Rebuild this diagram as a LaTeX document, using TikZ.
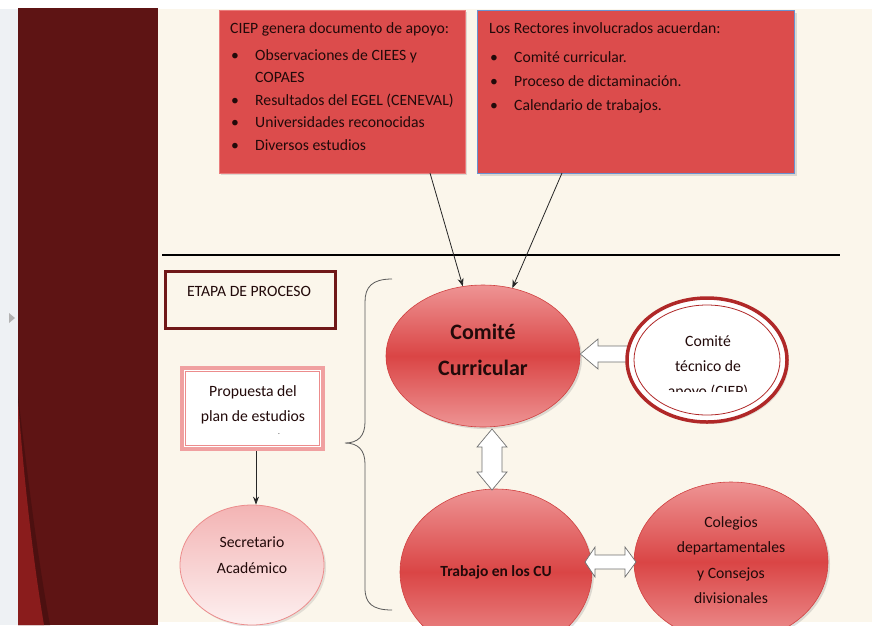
\documentclass[tikz,border=0pt]{standalone}
\usepackage{fontspec}
\setmainfont{Carlito}
\usetikzlibrary{shapes.geometric,shadows,calc,arrows.meta}

\definecolor{cream}{HTML}{FBF6EB}
\definecolor{stripc}{HTML}{EEF1F4}
\definecolor{maroonc}{HTML}{5E1414}
\definecolor{brightc}{HTML}{8A1C1C}
\definecolor{bandc}{HTML}{4C1010}
\definecolor{boxred}{HTML}{DC4C4C}
\definecolor{boxedge}{HTML}{EA7C7C}
\definecolor{blueedge}{HTML}{6A92D0}
\definecolor{txt}{HTML}{220A0A}
\definecolor{ellmid}{HTML}{DA4545}
\definecolor{elllight}{HTML}{EE9494}
\definecolor{elledge}{HTML}{D04040}
\definecolor{pinkedge}{HTML}{F0A0A0}
\definecolor{pinkin}{HTML}{EC8C8C}
\definecolor{pinktop}{HTML}{F3B4B4}
\definecolor{pinkbot}{HTML}{FDF0F0}
\definecolor{darkred}{HTML}{701818}
\definecolor{tecedge}{HTML}{B02828}
\definecolor{arrgray}{HTML}{707070}

\tikzset{
  body/.style={font=\fontsize{15.7}{22.5}\selectfont, text=txt, inner sep=0pt},
  topbox/.style={rectangle, fill=boxred, anchor=north west, inner sep=0pt,
    drop shadow={opacity=0.25, shadow xshift=2pt, shadow yshift=-2pt}},
  redell/.style={ellipse, inner sep=0pt, draw=elledge, line width=0.6pt,
    top color=elllight, bottom color=elllight, middle color=ellmid,
    drop shadow={opacity=0.25, shadow xshift=2pt, shadow yshift=-2pt}},
  pinkell/.style={ellipse, inner sep=0pt, draw=pinkin, line width=0.8pt,
    top color=pinktop, bottom color=pinkbot},
  thinarrow/.style={draw=black!85, line width=0.8pt, -{Stealth[length=8pt,width=6pt]}},
  blockarrow/.style={draw=arrgray, fill=white, line width=0.7pt, line join=miter},
}

\begin{document}
\begin{tikzpicture}[x=1pt,y=-1pt]
\useasboundingbox (0,0) rectangle (872,625);

% background
\fill[white] (0,0) rectangle (872,625);
\fill[stripc] (0,9) rectangle (18,625);
\fill[cream] (158,9) rectangle (872,622);
\fill[maroonc] (18,8) rectangle (158,625);
\fill[bandc] (18,395) .. controls (28,480) and (38,560) .. (50,625) -- (18,625) -- cycle;
\fill[brightc] (18,400) .. controls (24,480) and (33,560) .. (44,625) -- (18,625) -- cycle;
\fill[gray!60] (9,313) -- (15,318) -- (9,323) -- cycle;

% top boxes
\node[topbox, draw=boxedge, line width=0.8pt, minimum width=246pt, minimum height=163pt] (b1) at (219,10) {};
\node[body, anchor=base west] (b1t) at (230,33) {%
  \begin{tabular}[t]{@{}p{25pt}@{}l@{}}
  \multicolumn{2}{@{}l@{}}{CIEP genera documento de apoyo:}\\[4.5pt]
  \hspace*{1pt}\textbullet & Observaciones de CIEES y\\
   & COPAES\\
  \hspace*{1pt}\textbullet & Resultados del EGEL (CENEVAL)\\
  \hspace*{1pt}\textbullet & Universidades reconocidas\\
  \hspace*{1pt}\textbullet & Diversos estudios
  \end{tabular}};

\node[topbox, draw=blueedge, line width=1pt, minimum width=317pt, minimum height=163pt] (b2) at (477,10) {};
\node[body, anchor=base west, font=\fontsize{15.7}{24}\selectfont] (b2t) at (489,33) {%
  \begin{tabular}[t]{@{}p{25pt}@{}l@{}}
  \multicolumn{2}{@{}l@{}}{Los Rectores involucrados acuerdan:}\\[5pt]
  \hspace*{1pt}\textbullet & Comité curricular.\\
  \hspace*{1pt}\textbullet & Proceso de dictaminación.\\
  \hspace*{1pt}\textbullet & Calendario de trabajos.
  \end{tabular}};

% separator line
\draw[line width=2pt, black] (162,255) -- (840,255);

% ETAPA box
\node[rectangle, draw=darkred, line width=3pt, fill=cream, minimum width=170pt, minimum height=57pt, anchor=north west, inner sep=0pt] (etapa) at (163.5,269.5) {};
\node[body] (etapat) at (249,291) {ETAPA DE PROCESO};

% Propuesta box
\node[rectangle, draw=pinkedge, line width=4.5pt, fill=white, minimum width=141pt, minimum height=81pt, inner sep=0pt] (prop) at (252.5,408.5) {};
\draw[pinkin, line width=0.8pt] ($(prop.north west)+(5.5,5.5)$) rectangle ($(prop.south east)+(-5.5,-5.5)$);
\node[body, align=center, font=\fontsize{15.7}{25}\selectfont] (propt) at (253,405) {Propuesta del\\plan de estudios};
\node[inner sep=0pt, font=\fontsize{9}{9}\selectfont, text=black!60] (dot) at (279,434) {.};

% brace
\draw[black!65, line width=0.8pt] (392,279) .. controls (372,279) and (365,287) .. (365,302) -- (365,422)
  .. controls (365,436) and (358,443) .. (345,443)
  .. controls (358,443) and (365,450) .. (365,464) -- (365,588)
  .. controls (365,603) and (372,610) .. (392,610);

% ellipses
\node[redell, minimum width=194pt, minimum height=142pt] (cc) at (483,356) {};
\node[font=\bfseries\fontsize{22}{36}\selectfont, text=txt, align=center, inner sep=0pt] (cct) at (483,350) {Comité\\Curricular};

\node[redell, minimum width=192pt, minimum height=166pt] (cu) at (496,572) {};
\node[font=\bfseries\fontsize{15.5}{20}\selectfont, text=txt, inner sep=0pt] (cut) at (496,572) {Trabajo en los CU};

\node[redell, minimum width=194pt, minimum height=160pt] (col) at (731,562) {};
\node[body, align=center, font=\fontsize{15.7}{25.3}\selectfont] (colt) at (731,560) {Colegios\\departamentales\\y Consejos\\divisionales};

\node[pinkell, minimum width=144pt, minimum height=120pt,
  drop shadow={opacity=0.2, shadow xshift=2pt, shadow yshift=-2pt}] (sec) at (252,565) {};
\node[body, align=center, font=\fontsize{15.7}{26}\selectfont] (sect) at (252,555) {Secretario\\Académico};

% block arrow tecnico -> comite
\draw[blockarrow] (632,346) -- (598,346) -- (598,339) -- (cc.east |- 0,354) -- (598,369) -- (598,362) -- (632,362) -- cycle;

\node[ellipse, inner sep=0pt, draw=tecedge, line width=3.5pt, fill=white, minimum width=160pt, minimum height=124pt,
  drop shadow={opacity=0.2, shadow xshift=2pt, shadow yshift=-2pt}] (tec) at (707,360) {};
\draw[tecedge, line width=0.8pt] (tec.center) ellipse [x radius=73, y radius=55];
\begin{scope}
\clip (640,320) rectangle (780,391);
\node[body, align=center, font=\fontsize{15.7}{25}\selectfont] (tect) at (708,367) {Comité\\técnico de\\apoyo (CIEP)};
\end{scope}

% block double arrows
\draw[blockarrow] (492,429) -- (507,447) -- (502,447) -- (502,472) -- (507,472) -- (492,490)
  -- (477,472) -- (482,472) -- (482,447) -- (477,447) -- cycle;
\draw[blockarrow] (585,562) -- (595,547) -- (595,555) -- (625,555) -- (625,547) -- (636,562)
  -- (625,577) -- (625,569) -- (595,569) -- (595,577) -- cycle;

% thin arrows
\coordinate (a1) at (430,173);
\coordinate (a2) at (562,173);
\draw[thinarrow] (a1) -- (cc);
\draw[thinarrow] (a2) -- (cc);
\draw[thinarrow] (prop.south -| 256,0) -- (sec.north -| 256,0);
\end{tikzpicture}
\end{document}
